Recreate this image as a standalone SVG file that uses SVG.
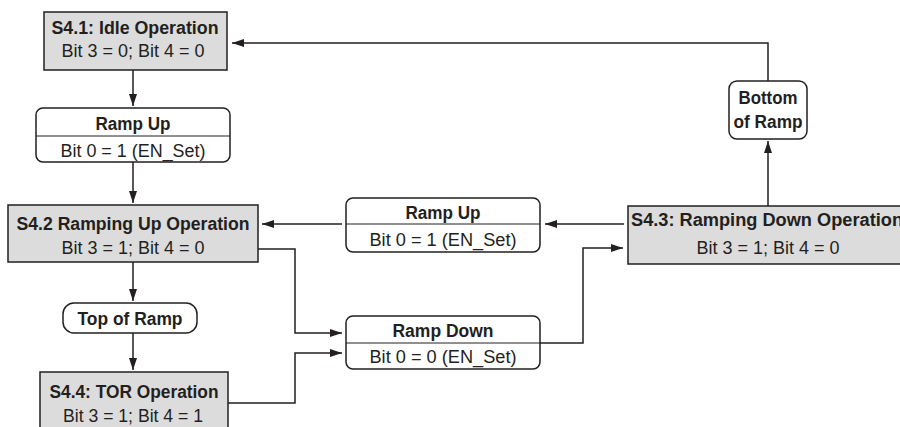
<svg xmlns="http://www.w3.org/2000/svg" width="900" height="427" viewBox="0 0 900 427">
  <defs>
    <marker id="arr" markerUnits="userSpaceOnUse" markerWidth="13" markerHeight="9" refX="12" refY="4" orient="auto">
      <path d="M0,0 L12,4 L0,8 z" fill="#231f20"/>
    </marker>
  </defs>
  <style>
    .state { fill: #dcdcdc; stroke: #231f20; stroke-width: 1.5; }
    .cond { fill: #ffffff; stroke: #231f20; stroke-width: 1.5; }
    .div { stroke: #231f20; stroke-width: 1; }
    .conn { fill: none; stroke: #231f20; stroke-width: 1.5; }
    text { font-family: "Liberation Sans", Arial, sans-serif; font-size: 18px; fill: #231f20; text-anchor: middle; }
    .b { font-weight: bold; }
  </style>
  <rect width="900" height="427" fill="#ffffff"/>

  <g id="connectors">
    <path class="conn" d="M133,70 L133,106" marker-end="url(#arr)"/>
    <path class="conn" d="M133,162 L133,203" marker-end="url(#arr)"/>
    <path class="conn" d="M133,262 L133,301" marker-end="url(#arr)"/>
    <path class="conn" d="M133,333 L133,370" marker-end="url(#arr)"/>
    <path class="conn" d="M258,249 L295,249 L295,333 L342,333" marker-end="url(#arr)"/>
    <path class="conn" d="M228,403 L295,403 L295,353 L342,353" marker-end="url(#arr)"/>
    <path class="conn" d="M540,343 L583,343 L583,248 L623,248" marker-end="url(#arr)"/>
    <path class="conn" d="M624,224 L545,224" marker-end="url(#arr)"/>
    <path class="conn" d="M342,224 L262,224" marker-end="url(#arr)"/>
    <path class="conn" d="M768,206 L768,141" marker-end="url(#arr)"/>
    <path class="conn" d="M768,81 L768,43 L232,43" marker-end="url(#arr)"/>
  </g>

  <g id="s41">
    <rect class="state" x="44" y="12" width="183" height="58"/>
    <text class="b" x="135" y="34" textLength="167" lengthAdjust="spacingAndGlyphs">S4.1: Idle Operation</text>
    <text x="133" y="57" textLength="143" lengthAdjust="spacingAndGlyphs">Bit 3 = 0; Bit 4 = 0</text>
  </g>

  <g id="rampup1">
    <rect class="cond" x="36" y="108" width="194" height="54" rx="7"/>
    <line class="div" x1="36" y1="136" x2="230" y2="136"/>
    <text class="b" x="133" y="130" textLength="75" lengthAdjust="spacingAndGlyphs">Ramp Up</text>
    <text x="133" y="157" textLength="145" lengthAdjust="spacingAndGlyphs">Bit 0 = 1 (EN_Set)</text>
  </g>

  <g id="s42">
    <rect class="state" x="8" y="205" width="250" height="57"/>
    <text class="b" x="133" y="230" textLength="233" lengthAdjust="spacingAndGlyphs">S4.2 Ramping Up Operation</text>
    <text x="133" y="254" textLength="143" lengthAdjust="spacingAndGlyphs">Bit 3 = 1; Bit 4 = 0</text>
  </g>

  <g id="topramp">
    <rect class="cond" x="63" y="303" width="134" height="30" rx="11"/>
    <text class="b" x="130" y="325" textLength="105" lengthAdjust="spacingAndGlyphs">Top of Ramp</text>
  </g>

  <g id="s44">
    <rect class="state" x="40" y="372" width="188" height="60"/>
    <text class="b" x="134" y="398" textLength="169" lengthAdjust="spacingAndGlyphs">S4.4: TOR Operation</text>
    <text x="133" y="422" textLength="140" lengthAdjust="spacingAndGlyphs">Bit 3 = 1; Bit 4 = 1</text>
  </g>

  <g id="rampup2">
    <rect class="cond" x="346" y="198" width="194" height="54" rx="7"/>
    <line class="div" x1="346" y1="224" x2="540" y2="224"/>
    <text class="b" x="443" y="219" textLength="75" lengthAdjust="spacingAndGlyphs">Ramp Up</text>
    <text x="443" y="246" textLength="147" lengthAdjust="spacingAndGlyphs">Bit 0 = 1 (EN_Set)</text>
  </g>

  <g id="rampdown">
    <rect class="cond" x="346" y="316" width="194" height="53" rx="7"/>
    <line class="div" x1="346" y1="343" x2="540" y2="343"/>
    <text class="b" x="443" y="337" textLength="101" lengthAdjust="spacingAndGlyphs">Ramp Down</text>
    <text x="443" y="363" textLength="147" lengthAdjust="spacingAndGlyphs">Bit 0 = 0 (EN_Set)</text>
  </g>

  <g id="s43">
    <rect class="state" x="628" y="206" width="280" height="58"/>
    <text class="b" x="767" y="226" textLength="272" lengthAdjust="spacingAndGlyphs">S4.3: Ramping Down Operation</text>
    <text x="768" y="254" textLength="143" lengthAdjust="spacingAndGlyphs">Bit 3 = 1; Bit 4 = 0</text>
  </g>

  <g id="bottomramp">
    <rect class="cond" x="729" y="81" width="78" height="58" rx="8"/>
    <text class="b" x="768" y="104" textLength="59" lengthAdjust="spacingAndGlyphs">Bottom</text>
    <text class="b" x="768" y="128" textLength="69" lengthAdjust="spacingAndGlyphs">of Ramp</text>
  </g>
</svg>
